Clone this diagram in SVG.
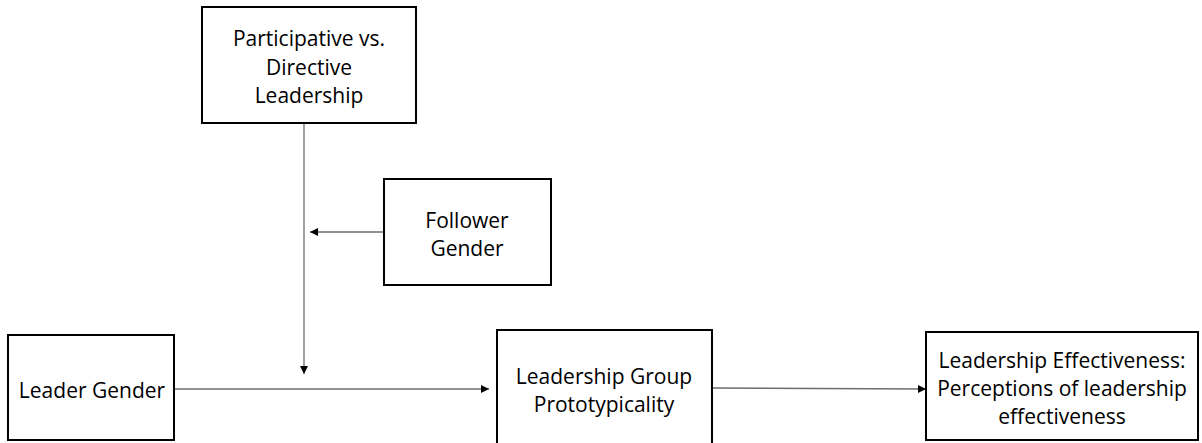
<svg xmlns="http://www.w3.org/2000/svg" width="1202" height="443" viewBox="0 0 1202 443">
<style>
.box{fill:#fff;stroke:#000;stroke-width:2}
.t{font-family:"Open Sans","Liberation Sans",sans-serif;font-size:21px;fill:#000;text-anchor:middle}
.c{stroke:#6e6e6e;stroke-width:1.3;fill:none;marker-end:url(#ah)}
</style>
<defs>
<marker id="ah" viewBox="0 0 10 10" refX="10" refY="5" markerWidth="8" markerHeight="8" markerUnits="userSpaceOnUse" orient="auto">
<path d="M0,0 L10,5 L0,10 z" fill="#000"/>
</marker>
</defs>
<rect width="1202" height="443" fill="#fff"/>
<g id="connectors">
<line class="c" x1="304" y1="123" x2="304" y2="374"/>
<line class="c" x1="384" y1="232" x2="310" y2="232"/>
<line class="c" x1="174" y1="389" x2="489" y2="389"/>
<line class="c" x1="712" y1="388" x2="926" y2="389"/>
</g>
<g id="participative">
<rect class="box" x="202" y="7" width="214" height="116"/>
<text class="t" x="309" y="46">Participative vs.</text>
<text class="t" x="309" y="75">Directive</text>
<text class="t" x="309" y="103">Leadership</text>
</g>
<g id="follower">
<rect class="box" x="384" y="179" width="167" height="106"/>
<text class="t" x="467" y="228">Follower</text>
<text class="t" x="467" y="256">Gender</text>
</g>
<g id="leader">
<rect class="box" x="8" y="335" width="166" height="105"/>
<text class="t" x="92" y="398">Leader Gender</text>
</g>
<g id="prototypicality">
<rect class="box" x="497" y="330" width="215" height="118"/>
<text class="t" x="604" y="384">Leadership Group</text>
<text class="t" x="604" y="412">Prototypicality</text>
</g>
<g id="effectiveness">
<rect class="box" x="926" y="332" width="272" height="108"/>
<text class="t" x="1062" y="368">Leadership Effectiveness:</text>
<text class="t" x="1062" y="396">Perceptions of leadership</text>
<text class="t" x="1062" y="424">effectiveness</text>
</g>
</svg>
